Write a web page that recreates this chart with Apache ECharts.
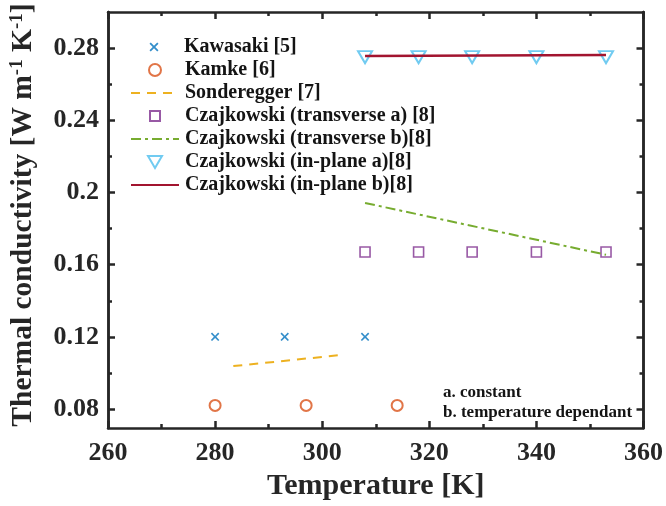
<!DOCTYPE html>
<html>
<head>
<meta charset="utf-8">
<script src="https://cdn.jsdelivr.net/npm/echarts@6/dist/echarts.min.js"></script>
<style>
  html, body { margin: 0; padding: 0; background: #fff; }
  #chart { width: 666px; height: 506px; }
</style>
</head>
<body>
<div id="chart"></div>
<script>
// Thermal conductivity of the wood samples against temperature
const kawasakiT = [280, 293, 308];
const kawasakiK = [0.12, 0.12, 0.12];

const kamkeT = [280, 297, 314];
const kamkeK = [0.082, 0.082, 0.082];

const sondereggerT = [283.4, 303];
const sondereggerK = [0.1038, 0.1098];

const czajT = [308, 318, 328, 340, 353];
const transverseA = [0.167, 0.167, 0.167, 0.167, 0.167];
const transverseBT = [308, 353];
const transverseB = [0.1942, 0.1655];
const inPlaneA = [0.275, 0.275, 0.275, 0.275, 0.275];
const inPlaneBT = [308, 353];
const inPlaneB = [0.2756, 0.2762];

const yMajor = [0.08, 0.12, 0.16, 0.2, 0.24, 0.28];
const yMinor = [0.1, 0.14, 0.18, 0.22, 0.26];

const seriesNames = [
  'Kawasaki [5]',
  'Kamke [6]',
  'Sonderegger [7]',
  'Czajkowski (transverse a) [8]',
  'Czajkowski (transverse b)[8]',
  'Czajkowski (in-plane a)[8]',
  'Czajkowski (in-plane b)[8]'
];

const pairs = (xs, ys) => xs.map((x, i) => [x, ys[i]]);

const FONT = '"Liberation Serif", "Times New Roman", serif';
const AXIS_COLOR = '#262626';
const TEXT_COLOR = '#141414';
const Y_MIN = 0.0695, Y_MAX = 0.3;

const crossPath = 'path://M0,1.4L1.4,0L5,3.6L8.6,0L10,1.4L6.4,5L10,8.6L8.6,10L5,6.4L1.4,10L0,8.6L3.6,5Z';
const downTriangle = 'path://M0,0L10,0L5,8.66Z';

function yAxisDef(pos, values, len, labels) {
  return {
    type: 'value', position: pos, min: Y_MIN, max: Y_MAX,
    axisLine: { show: true, onZero: false, lineStyle: { color: AXIS_COLOR, width: 2.5 } },
    axisTick: { show: true, inside: true, length: len, customValues: values,
                lineStyle: { color: AXIS_COLOR, width: 2.5 } },
    axisLabel: labels ? {
      show: true, customValues: values, fontFamily: FONT, fontWeight: 'bold',
      fontSize: 26, color: AXIS_COLOR, margin: 9,
      formatter: v => String(parseFloat(v.toFixed(2)))
    } : { show: false },
    splitLine: { show: false }
  };
}

function xAxisDef(pos, labels) {
  return {
    type: 'value', position: pos, min: 260, max: 360, interval: 20,
    axisLine: { show: true, onZero: false, lineStyle: { color: AXIS_COLOR, width: 2.5 } },
    axisTick: { show: true, inside: true, length: 7, lineStyle: { color: AXIS_COLOR, width: 2.5 } },
    minorTick: { show: true, splitNumber: 2, length: 4, lineStyle: { color: AXIS_COLOR, width: 2.5 } },
    axisLabel: labels ? { show: true, fontFamily: FONT, fontWeight: 'bold', fontSize: 26,
                          color: AXIS_COLOR, margin: 12 } : { show: false },
    splitLine: { show: false }
  };
}

// Legend rows: one legend per entry so each key can keep its own marker size
const LEGEND_TOP = 47, LEGEND_STEP = 23, TEXT_X = 184, KEY_CENTER_X = 154, LINE_LEFT = 130, LINE_W = 48;
const legendKeys = [
  { marker: true, size: 9 },
  { marker: true, size: 12 },
  { marker: false },
  { marker: true, size: 10 },
  { marker: false },
  { marker: true, size: 14, icon: downTriangle },
  { marker: false }
];
const legends = legendKeys.map((k, i) => {
  const w = k.marker ? k.size : LINE_W;
  const h = k.marker ? k.size : 14;
  const left = k.marker ? KEY_CENTER_X - k.size / 2 : LINE_LEFT;
  const spacer = Math.max(0, TEXT_X - (left + w + 5));
  const item = k.icon ? { name: seriesNames[i], icon: k.icon } : seriesNames[i];
  return {
    orient: 'vertical', left: left, top: LEGEND_TOP + LEGEND_STEP * i - 10,
    padding: 0, itemWidth: w, itemHeight: h, selectedMode: false,
    data: [item],
    formatter: name => '{sp|}' + name,
    textStyle: {
      fontFamily: FONT, fontWeight: 'bold', fontSize: 20, lineHeight: 20, color: TEXT_COLOR,
      rich: { sp: { width: spacer, height: 1 } }
    }
  };
});

const chart = echarts.init(document.getElementById('chart'), null, { renderer: 'canvas' });

const xBottom = xAxisDef('bottom', true);
xBottom.name = 'Temperature [K]';
xBottom.nameLocation = 'middle';
xBottom.nameGap = 43;
xBottom.nameTextStyle = { fontFamily: FONT, fontWeight: 'bold', fontSize: 30, color: AXIS_COLOR };

const yLeft = yAxisDef('left', yMajor, 7, true);
yLeft.name = 'Thermal conductivity [W m{sup|-1} K{sup|-1}]';
yLeft.nameLocation = 'middle';
yLeft.nameGap = 69;
yLeft.nameTextStyle = {
  fontFamily: FONT, fontWeight: 'bold', fontSize: 29.5, color: AXIS_COLOR,
  padding: [0, 0, 0, 10],
  rich: { sup: { fontFamily: FONT, fontWeight: 'bold', fontSize: 19, color: AXIS_COLOR,
                 verticalAlign: 'top', padding: [0, 0, 12, 0] } }
};

chart.setOption({
  animation: false,
  backgroundColor: '#fff',
  grid: { left: 107.5, right: 22, top: 12, bottom: 77 },
  xAxis: [xBottom, xAxisDef('top', false)],
  yAxis: [
    yLeft,
    yAxisDef('left', yMinor, 4, false),
    yAxisDef('right', yMajor, 7, false),
    yAxisDef('right', yMinor, 4, false)
  ],
  legend: legends,
  graphic: [
    { type: 'text', left: 443, top: 383,
      style: { text: 'a. constant\nb. temperature dependant', fontFamily: FONT, fontWeight: 'bold',
               fontSize: 17, lineHeight: 20, fill: TEXT_COLOR } }
  ],
  series: [
    { name: seriesNames[0], type: 'scatter', data: pairs(kawasakiT, kawasakiK),
      symbol: crossPath, symbolSize: 8.5, itemStyle: { color: '#0072BD' } },
    { name: seriesNames[1], type: 'scatter', data: pairs(kamkeT, kamkeK),
      symbol: 'circle', symbolSize: 11,
      itemStyle: { color: '#fff', borderColor: '#D95319', borderWidth: 2 } },
    { name: seriesNames[2], type: 'line', data: pairs(sondereggerT, sondereggerK),
      symbol: 'none', lineStyle: { color: '#EDB120', width: 2, type: [9, 7] },
      itemStyle: { color: '#EDB120', opacity: 0 } },
    { name: seriesNames[3], type: 'scatter', data: pairs(czajT, transverseA),
      symbol: 'rect', symbolSize: 10,
      itemStyle: { color: '#fff', borderColor: '#7E2F8E', borderWidth: 1.6 } },
    { name: seriesNames[4], type: 'line', data: pairs(transverseBT, transverseB),
      symbol: 'none', lineStyle: { color: '#77AC30', width: 2, type: [10, 4, 3, 4] },
      itemStyle: { color: '#77AC30', opacity: 0 } },
    { name: seriesNames[5], type: 'scatter', data: pairs(czajT, inPlaneA),
      symbol: downTriangle, symbolSize: [14, 12],
      itemStyle: { color: '#fff', borderColor: '#4DBEEE', borderWidth: 2 } },
    { name: seriesNames[6], type: 'line', data: pairs(inPlaneBT, inPlaneB),
      symbol: 'none', lineStyle: { color: '#A2142F', width: 2.5 },
      itemStyle: { color: '#A2142F', opacity: 0 } }
  ]
});
</script>
</body>
</html>
